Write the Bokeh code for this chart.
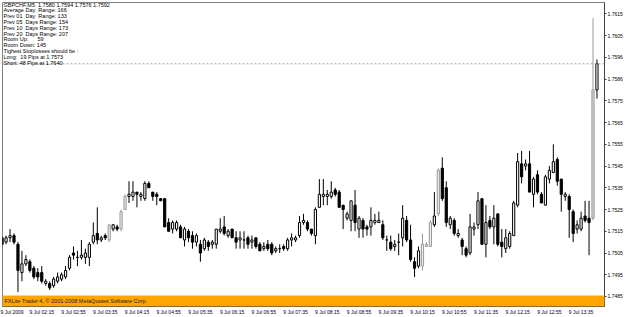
from bokeh.plotting import figure
from bokeh.models import Range1d, FixedTicker, Span, Label, BoxAnnotation, ColumnDataSource
from bokeh.embed import file_html
from bokeh.resources import INLINE

# ---------------- data (GBPCHF, M5, 9 Jul 2009) ----------------
open_ = [1.7512, 1.7510, 1.7512, 1.7513, 1.7509, 1.7496, 1.7500, 1.7501, 1.7498, 1.7496,
         1.7496, 1.7491, 1.7491, 1.7490, 1.7492, 1.7493, 1.7494, 1.7498, 1.7505, 1.7503,
         1.7503, 1.7503, 1.7503, 1.7510, 1.7514, 1.7511, 1.7513, 1.7511, 1.7516, 1.7517,
         1.7516, 1.7525, 1.7531, 1.7531, 1.7533, 1.7531, 1.7530, 1.7537, 1.7533, 1.7532,
         1.7530, 1.7530, 1.7519, 1.7516, 1.7516, 1.7517, 1.7511, 1.7515, 1.7513, 1.7510,
         1.7509, 1.7507, 1.7510, 1.7509, 1.7509, 1.7515, 1.7517, 1.7513, 1.7516, 1.7512,
         1.7511, 1.7511, 1.7512, 1.7510, 1.7512, 1.7509, 1.7507, 1.7509, 1.7509, 1.7506,
         1.7507, 1.7508, 1.7507, 1.7511, 1.7511, 1.7513, 1.7519, 1.7519, 1.7516, 1.7513,
         1.7526, 1.7531, 1.7531, 1.7531, 1.7534, 1.7533, 1.7527, 1.7521, 1.7520, 1.7527,
         1.7516, 1.7520, 1.7517, 1.7517, 1.7519, 1.7519, 1.7518, 1.7511, 1.7510, 1.7508,
         1.7510, 1.7512, 1.7520, 1.7511, 1.7501, 1.7499, 1.7499, 1.7508, 1.7508, 1.7518,
         1.7523, 1.7544, 1.7535, 1.7518, 1.7520, 1.7513, 1.7511, 1.7507, 1.7505, 1.7516,
         1.7518, 1.7530, 1.7509, 1.7520, 1.7517, 1.7523, 1.7510, 1.7507, 1.7508, 1.7513,
         1.7527, 1.7546, 1.7545, 1.7546, 1.7532, 1.7541, 1.7532, 1.7527, 1.7539, 1.7542,
         1.7548, 1.7539, 1.7531, 1.7531, 1.7524, 1.7516, 1.7516, 1.7522, 1.7521, 1.7521,
         1.7580]
high = [1.7513, 1.7513, 1.7516, 1.7514, 1.7510, 1.7506, 1.7504, 1.7502, 1.7499, 1.7498,
        1.7499, 1.7493, 1.7492, 1.7494, 1.7496, 1.7496, 1.7499, 1.7504, 1.7508, 1.7506,
        1.7511, 1.7507, 1.7510, 1.7519, 1.7526, 1.7513, 1.7514, 1.7518, 1.7518, 1.7518,
        1.7525, 1.7532, 1.7538, 1.7538, 1.7533, 1.7533, 1.7538, 1.7538, 1.7533, 1.7533,
        1.7530, 1.7530, 1.7521, 1.7520, 1.7520, 1.7518, 1.7517, 1.7516, 1.7515, 1.7514,
        1.7511, 1.7512, 1.7511, 1.7511, 1.7516, 1.7521, 1.7522, 1.7516, 1.7516, 1.7515,
        1.7515, 1.7515, 1.7513, 1.7513, 1.7512, 1.7510, 1.7510, 1.7511, 1.7510, 1.7508,
        1.7509, 1.7509, 1.7512, 1.7514, 1.7513, 1.7522, 1.7523, 1.7520, 1.7516, 1.7526,
        1.7539, 1.7539, 1.7534, 1.7538, 1.7535, 1.7534, 1.7527, 1.7524, 1.7529, 1.7534,
        1.7522, 1.7521, 1.7518, 1.7526, 1.7523, 1.7524, 1.7520, 1.7513, 1.7513, 1.7511,
        1.7514, 1.7527, 1.7522, 1.7518, 1.7503, 1.7508, 1.7514, 1.7510, 1.7520, 1.7533,
        1.7544, 1.7549, 1.7538, 1.7522, 1.7521, 1.7516, 1.7512, 1.7508, 1.7523, 1.7519,
        1.7533, 1.7530, 1.7527, 1.7522, 1.7527, 1.7523, 1.7516, 1.7516, 1.7515, 1.7529,
        1.7551, 1.7552, 1.7548, 1.7552, 1.7540, 1.7543, 1.7533, 1.7541, 1.7545, 1.7555,
        1.7549, 1.7539, 1.7533, 1.7532, 1.7525, 1.7520, 1.7524, 1.7529, 1.7529, 1.7613,
        1.7594]
low = [1.7508, 1.7509, 1.7510, 1.7509, 1.7487, 1.7492, 1.7499, 1.7496, 1.7493, 1.7492,
       1.7491, 1.7490, 1.7488, 1.7489, 1.7491, 1.7492, 1.7493, 1.7497, 1.7502, 1.7499,
       1.7502, 1.7500, 1.7499, 1.7509, 1.7509, 1.7510, 1.7511, 1.7510, 1.7515, 1.7515,
       1.7515, 1.7525, 1.7528, 1.7529, 1.7526, 1.7529, 1.7529, 1.7535, 1.7529, 1.7527,
       1.7529, 1.7517, 1.7515, 1.7514, 1.7515, 1.7512, 1.7508, 1.7510, 1.7507, 1.7508,
       1.7501, 1.7506, 1.7506, 1.7507, 1.7507, 1.7514, 1.7513, 1.7512, 1.7512, 1.7507,
       1.7507, 1.7507, 1.7507, 1.7507, 1.7507, 1.7506, 1.7506, 1.7506, 1.7504, 1.7505,
       1.7505, 1.7506, 1.7506, 1.7508, 1.7510, 1.7512, 1.7518, 1.7515, 1.7513, 1.7509,
       1.7526, 1.7527, 1.7527, 1.7530, 1.7531, 1.7526, 1.7516, 1.7520, 1.7515, 1.7515,
       1.7512, 1.7512, 1.7513, 1.7513, 1.7518, 1.7519, 1.7511, 1.7506, 1.7506, 1.7506,
       1.7504, 1.7508, 1.7510, 1.7501, 1.7494, 1.7498, 1.7497, 1.7508, 1.7508, 1.7517,
       1.7522, 1.7529, 1.7517, 1.7516, 1.7513, 1.7512, 1.7504, 1.7503, 1.7504, 1.7513,
       1.7516, 1.7509, 1.7503, 1.7516, 1.7509, 1.7508, 1.7503, 1.7505, 1.7507, 1.7513,
       1.7526, 1.7537, 1.7543, 1.7533, 1.7526, 1.7532, 1.7528, 1.7527, 1.7537, 1.7542,
       1.7536, 1.7524, 1.7529, 1.7512, 1.7510, 1.7514, 1.7515, 1.7519, 1.7504, 1.7520,
       1.7576]
close = [1.7509, 1.7512, 1.7513, 1.7510, 1.7497, 1.7500, 1.7502, 1.7497, 1.7494, 1.7494,
         1.7492, 1.7492, 1.7489, 1.7493, 1.7494, 1.7495, 1.7497, 1.7503, 1.7504, 1.7503,
         1.7504, 1.7505, 1.7509, 1.7513, 1.7511, 1.7512, 1.7512, 1.7518, 1.7518, 1.7516,
         1.7524, 1.7531, 1.7532, 1.7533, 1.7532, 1.7532, 1.7537, 1.7535, 1.7531, 1.7531,
         1.7529, 1.7517, 1.7515, 1.7519, 1.7519, 1.7512, 1.7516, 1.7512, 1.7510, 1.7513,
         1.7505, 1.7511, 1.7508, 1.7510, 1.7516, 1.7516, 1.7514, 1.7515, 1.7512, 1.7510,
         1.7512, 1.7511, 1.7509, 1.7511, 1.7508, 1.7506, 1.7508, 1.7507, 1.7505, 1.7507,
         1.7507, 1.7507, 1.7511, 1.7512, 1.7512, 1.7519, 1.7520, 1.7516, 1.7514, 1.7525,
         1.7532, 1.7532, 1.7532, 1.7533, 1.7532, 1.7526, 1.7525, 1.7523, 1.7529, 1.7519,
         1.7521, 1.7516, 1.7516, 1.7520, 1.7520, 1.7520, 1.7512, 1.7511, 1.7507, 1.7509,
         1.7510, 1.7521, 1.7511, 1.7502, 1.7498, 1.7506, 1.7509, 1.7509, 1.7519, 1.7522,
         1.7543, 1.7530, 1.7519, 1.7521, 1.7514, 1.7514, 1.7508, 1.7504, 1.7517, 1.7517,
         1.7529, 1.7509, 1.7519, 1.7517, 1.7521, 1.7509, 1.7508, 1.7512, 1.7514, 1.7528,
         1.7547, 1.7540, 1.7546, 1.7533, 1.7539, 1.7533, 1.7528, 1.7540, 1.7543, 1.7547,
         1.7538, 1.7532, 1.7532, 1.7525, 1.7514, 1.7518, 1.7521, 1.7520, 1.7519, 1.7580,
         1.7592]
gray_bars = [27, 30, 31, 106, 107, 108, 110, 149]

time_labels = ["9 Jul 2009", "9 Jul 02:15", "9 Jul 02:55", "9 Jul 03:35", "9 Jul 04:15",
               "9 Jul 04:55", "9 Jul 05:35", "9 Jul 06:15", "9 Jul 06:55", "9 Jul 07:35",
               "9 Jul 08:15", "9 Jul 08:55", "9 Jul 09:35", "9 Jul 10:15", "9 Jul 10:55",
               "9 Jul 11:35", "9 Jul 12:15", "9 Jul 12:55", "9 Jul 13:35"]
time_label_bars = [0, 8, 16, 24, 32, 40, 48, 56, 64, 72, 80, 88, 96, 104, 112, 120, 128, 136, 144]

price_ticks = [1.7485, 1.7495, 1.7505, 1.7515, 1.7525, 1.7535, 1.7545, 1.7555,
               1.7565, 1.7575, 1.7585, 1.7595, 1.7605, 1.7615]
price_tick_labels = ["1.7485", "1.7495", "1.7505", "1.7515", "1.7525", "1.7535", "1.7545",
                     "1.7555", "1.7565", "1.7575", "1.7586", "1.7596", "1.7605", "1.7615"]
current_price = 1.7592
current_price_label = "1.7592"

NB = "\u00a0"
info_lines = ["GBPCHF,M5" + NB + " 1.7580 1.7594 1.7576 1.7592",
              "Average Day" + NB + " Range: 166",
              "Prev 01" + NB + " Day" + NB + " Range: 133",
              "Prev 05" + NB + " Days Range: 154",
              "Prev 10" + NB + " Days Range: 173",
              "Prev 20" + NB + " Days Range: 207",
              "Room Up:" + NB * 5 + " 59",
              "Room Down: 145",
              "Tighest Stoplosses should be :",
              "Long:" + NB + " 19 Pips at 1.7573",
              "Short: 48 Pips at 1.7640"]
footer_text = "FXLite Trader 4, \u00a9 2001-2008 MetaQuotes Software Corp."

# ---------------- figure ----------------
FONT = "Liberation Sans"
FS = "5px"
FS_INFO = "5.5px"

p = figure(width=625, height=317, output_backend="svg", toolbar_location=None,
           x_range=Range1d(0.1, 151.9), y_range=Range1d(1.74804, 1.76202),
           y_axis_location="right",
           min_border_left=2, min_border_right=20, min_border_top=2, min_border_bottom=10)
p.grid.visible = False
p.background_fill_color = "white"
p.border_fill_color = "white"
p.outline_line_color = "#808080"

idx = list(range(len(open_)))
fills, lines = [], []
for i in idx:
    bull = close[i] >= open_[i]
    if i in gray_bars:
        fills.append("#d4d4d4" if i == 149 else "#ececec")
        lines.append("#9a9a9a")
    elif bull:
        fills.append("white")
        lines.append("black")
    else:
        fills.append("black")
        lines.append("black")

src = ColumnDataSource(dict(
    i=idx, open=open_, high=high, low=low, close=close,
    top=[max(o, c) for o, c in zip(open_, close)],
    bottom=[min(o, c) for o, c in zip(open_, close)],
    fill=fills, line=lines))

p.segment(x0="i", y0="low", x1="i", y1="high", line_color="line", line_width=1, source=src)
p.vbar(x="i", width=0.55, top="top", bottom="bottom", fill_color="fill",
       line_color="line", line_width=1, source=src)

# current price dotted line
p.add_layout(Span(location=current_price, dimension="width", line_color="#a0a0a0",
                  line_dash="2 2", line_width=1))

# footer band
p.add_layout(BoxAnnotation(bottom=0, top=11, bottom_units="screen", top_units="screen",
                           fill_color="#FFA500", fill_alpha=1.0,
                           line_color="#FFD890", line_width=1))
p.add_layout(Label(x=2, y=5.5, x_units="screen", y_units="screen", text=footer_text,
                   text_font=FONT, text_font_size=FS_INFO, text_color="#202020",
                   text_baseline="middle"))

# info text block
for k, t in enumerate(info_lines):
    p.add_layout(Label(x=1, y=302 - 5.83 * k, x_units="screen", y_units="screen", text=t,
                       text_font=FONT, text_font_size=FS_INFO, text_color="black",
                       text_baseline="middle"))

# axes
p.yaxis.ticker = FixedTicker(ticks=price_ticks)
p.yaxis.major_label_overrides = {t: l for t, l in zip(price_ticks, price_tick_labels)}
p.yaxis.major_label_text_font = FONT
p.yaxis.major_label_text_font_size = FS
p.yaxis.major_label_text_color = "black"
p.yaxis.major_tick_out = 2
p.yaxis.major_tick_in = 0
p.yaxis.minor_tick_out = 0
p.yaxis.minor_tick_in = 0
p.yaxis.major_label_standoff = 1
p.yaxis.axis_line_color = "#404040"
p.yaxis.major_tick_line_color = "#404040"

xt = [b + 2.0 for b in time_label_bars]
p.xaxis.ticker = FixedTicker(ticks=xt)
p.xaxis.major_label_overrides = {t: l for t, l in zip(xt, time_labels)}
p.xaxis.major_label_text_font = FONT
p.xaxis.major_label_text_font_size = FS
p.xaxis.major_label_text_color = "black"
p.xaxis.major_tick_out = 0
p.xaxis.major_tick_in = 0
p.xaxis.minor_tick_out = 0
p.xaxis.minor_tick_in = 0
p.xaxis.major_label_standoff = 2
p.xaxis.axis_line_color = "#404040"

# current price marker on the price scale
p.add_layout(Label(x=604, y=current_price, x_units="screen", y_units="data",
                   text=current_price_label, text_font=FONT, text_font_size=FS,
                   text_color="white", background_fill_color="black",
                   text_baseline="middle"))

open("out.html", "w").write(file_html(p, INLINE))
